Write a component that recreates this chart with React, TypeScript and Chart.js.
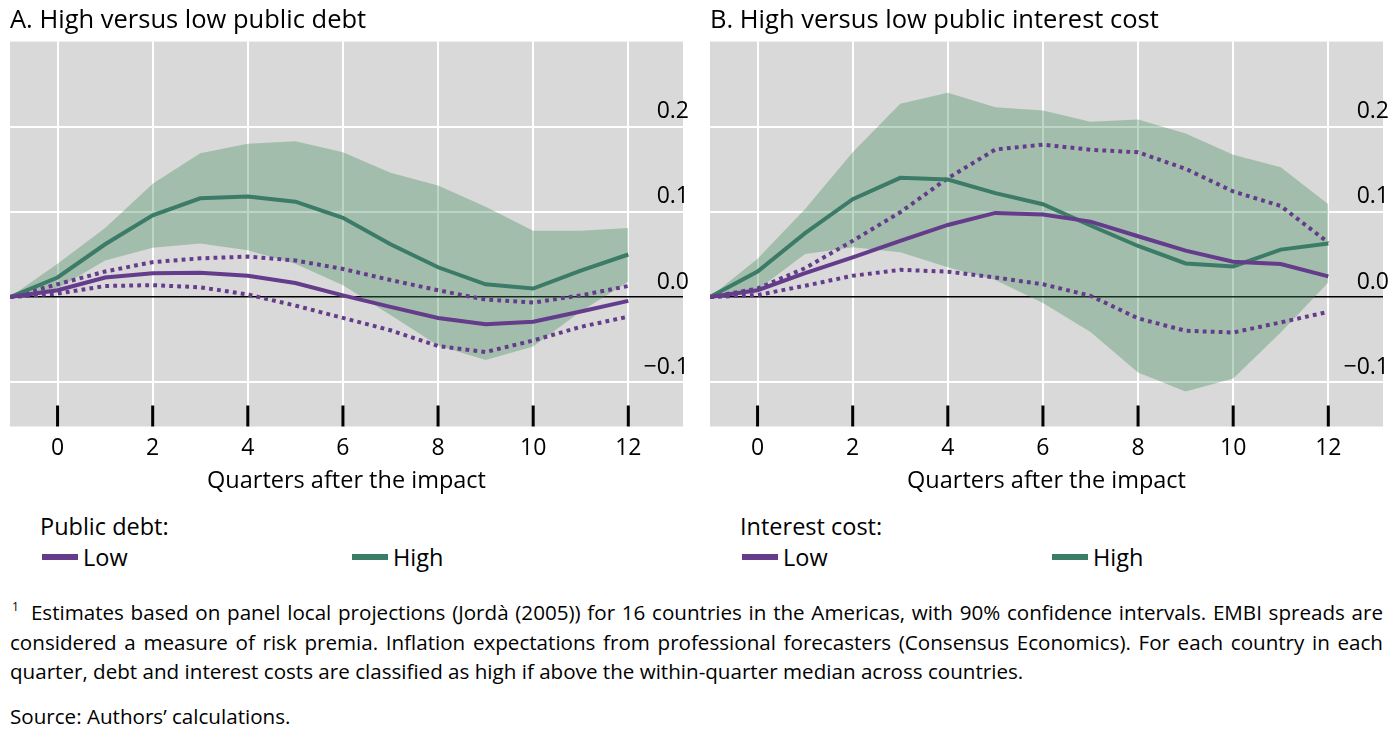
import { useEffect, useRef } from "react";
import { Chart, registerables } from "chart.js";

Chart.register(...registerables);

// quarters after the impact (the lines start one quarter before 0)
const quarters = [-1, 0, 1, 2, 3, 4, 5, 6, 7, 8, 9, 10, 11, 12];
const xTicks = [0, 2, 4, 6, 8, 10, 12];
const yTicks = [-0.1, 0, 0.1, 0.2];

// A. public debt
const debtHigh = [0, 0.023, 0.062, 0.096, 0.116, 0.118, 0.112, 0.093, 0.062, 0.035, 0.015, 0.01, 0.031, 0.05];
const debtHighUpper = [0, 0.039, 0.081, 0.133, 0.169, 0.18, 0.183, 0.17, 0.146, 0.131, 0.106, 0.078, 0.078, 0.081];
const debtHighLower = [0, 0.01, 0.043, 0.058, 0.063, 0.055, 0.039, 0.014, -0.021, -0.057, -0.074, -0.058, -0.017, 0.018];
const debtLow = [0, 0.008, 0.023, 0.028, 0.0285, 0.025, 0.0165, 0.002, -0.0115, -0.0245, -0.032, -0.029, -0.017, -0.0045];
const debtLowUpper = [0, 0.015, 0.03, 0.041, 0.0455, 0.0475, 0.043, 0.033, 0.02, 0.008, -0.003, -0.0065, 0.002, 0.013];
const debtLowLower = [0, 0.004, 0.013, 0.014, 0.0115, 0.003, -0.01, -0.0245, -0.039, -0.0575, -0.0645, -0.051, -0.035, -0.023];

// B. public interest cost
const costHigh = [0, 0.03, 0.075, 0.115, 0.14, 0.138, 0.122, 0.109, 0.084, 0.06, 0.0395, 0.036, 0.0557, 0.063];
const costHighUpper = [0, 0.045, 0.1035, 0.17, 0.227, 0.24, 0.223, 0.219, 0.206, 0.2086, 0.192, 0.167, 0.1525, 0.109];
const costHighLower = [0, 0.009, 0.0506, 0.0584, 0.0525, 0.035, 0.02, -0.007, -0.041, -0.0886, -0.111, -0.0957, -0.0416, 0.017];
const costLow = [0, 0.008, 0.028, 0.0467, 0.066, 0.0847, 0.0988, 0.097, 0.0886, 0.0714, 0.0545, 0.0416, 0.0388, 0.0243];
const costLowUpper = [0, 0.01, 0.034, 0.066, 0.0996, 0.1396, 0.1733, 0.179, 0.173, 0.17, 0.1506, 0.124, 0.107, 0.064];
const costLowLower = [0, 0.0024, 0.0133, 0.025, 0.032, 0.0298, 0.023, 0.015, 0.0015, -0.025, -0.0396, -0.0416, -0.0298, -0.0173];

const seriesNames = ["Low", "High"];

const PURPLE = "#653b8b";
const GREEN = "#3c7b67";
const BAND = "rgba(60,137,86,0.35)";
const FONT = "'Open Sans', sans-serif";

const pts = (arr: number[]) => quarters.map((q, i) => ({ x: q, y: arr[i] }));

const fmtY = (v: number) => {
  if (v < 0) return "\u2212" + Math.abs(v).toFixed(1);
  return v.toFixed(1);
};

// grey panel + black tick marks inside the plot
const panelPlugin = {
  id: "panel",
  beforeDraw(chart: any) {
    const { ctx, chartArea: a } = chart;
    ctx.save();
    ctx.fillStyle = "#d9d9d9";
    ctx.fillRect(a.left, a.top, a.right - a.left, a.bottom - a.top);
    ctx.restore();
  },
  afterDatasetsDraw(chart: any) {
    const { ctx, chartArea: a } = chart;
    const xs = chart.scales.x;
    ctx.save();
    ctx.strokeStyle = "#000";
    ctx.lineWidth = 3;
    xs.ticks.forEach((t: any) => {
      const px = xs.getPixelForValue(t.value);
      ctx.beginPath();
      ctx.moveTo(px, a.bottom - 21);
      ctx.lineTo(px, a.bottom);
      ctx.stroke();
    });
    ctx.restore();
  },
};

type PanelProps = {
  title: string;
  low: number[];
  lowUpper: number[];
  lowLower: number[];
  high: number[];
  highUpper: number[];
  highLower: number[];
};

const Panel = ({ title, low, lowUpper, lowLower, high, highUpper, highLower }: PanelProps) => {
  const chartRef = useRef<HTMLCanvasElement | null>(null);
  const chartInstanceRef = useRef<Chart | null>(null);

  useEffect(() => {
    if (!chartRef.current) return;
    const ctx = chartRef.current.getContext("2d");
    if (!ctx) return;
    if (chartInstanceRef.current) chartInstanceRef.current.destroy();

    const dotted = { borderColor: PURPLE, borderWidth: 4, borderDash: [3.8, 4.2], borderCapStyle: "butt" as const, pointRadius: 0, fill: false };

    chartInstanceRef.current = new Chart(ctx, {
      type: "line",
      data: {
        datasets: [
          { label: seriesNames[0], data: pts(low), borderColor: PURPLE, borderWidth: 4, pointRadius: 0, fill: false },
          { label: seriesNames[1], data: pts(high), borderColor: GREEN, borderWidth: 4, pointRadius: 0, fill: false },
          { label: "Low upper", data: pts(lowUpper), ...dotted },
          { label: "Low lower", data: pts(lowLower), ...dotted },
          { label: "High upper", data: pts(highUpper), borderWidth: 0, pointRadius: 0, backgroundColor: BAND, fill: "+1" },
          { label: "High lower", data: pts(highLower), borderWidth: 0, pointRadius: 0, fill: false },
        ],
      },
      options: {
        animation: false,
        responsive: false,
        layout: { padding: { left: 10, right: 5, top: 0, bottom: 7 } },
        plugins: {
          legend: { display: false },
          tooltip: { enabled: false },
          title: {
            display: true,
            text: title,
            align: "start",
            color: "#000",
            font: { family: FONT, size: 25.5, weight: "normal", lineHeight: 1.2 },
            padding: { top: 5, bottom: 6 },
          },
        },
        scales: {
          x: {
            type: "linear",
            min: -1,
            max: 13.15,
            afterBuildTicks: (axis: any) => {
              axis.ticks = xTicks.map((v) => ({ value: v }));
            },
            grid: { color: "#fff", lineWidth: 2, drawTicks: false },
            border: { display: false },
            ticks: {
              color: "#000",
              padding: 10,
              font: { family: FONT, size: 23, lineHeight: 1 },
              callback: (v: any) => String(v),
            },
            title: {
              display: true,
              text: "Quarters after the impact",
              color: "#000",
              font: { family: FONT, size: 23.5, lineHeight: 1 },
              padding: { top: 0, bottom: 0 },
            },
          },
          y: {
            position: "right",
            min: -0.152,
            max: 0.3,
            afterBuildTicks: (axis: any) => {
              axis.ticks = yTicks.map((v) => ({ value: v }));
            },
            grid: {
              drawTicks: false,
              color: (c: any) => (c.tick && c.tick.value === 0 ? "#000" : "#fff"),
              lineWidth: (c: any) => (c.tick && c.tick.value === 0 ? 1.5 : 2),
            },
            border: { display: false },
            ticks: {
              mirror: true,
              padding: 6,
              labelOffset: -15,
              color: "#000",
              font: { family: FONT, size: 23 },
              callback: (v: any) => fmtY(Number(v)),
            },
          },
        },
      },
      plugins: [panelPlugin],
    });

    return () => {
      if (chartInstanceRef.current) {
        chartInstanceRef.current.destroy();
        chartInstanceRef.current = null;
      }
    };
  }, [title, low, lowUpper, lowLower, high, highUpper, highLower]);

  return <canvas ref={chartRef} width={700} height={500} />;
};

const Legend = ({ heading, left }: { heading: string; left: number }) => (
  <>
    <div style={{ position: "absolute", left: left + 40, top: 511, fontSize: 23.5, lineHeight: "30px" }}>{heading}</div>
    {seriesNames.map((name, i) => (
      <div
        key={name}
        style={{
          position: "absolute",
          left: left + 42 + i * 310,
          top: 542,
          height: 30,
          display: "flex",
          alignItems: "center",
          fontSize: 23.5,
        }}
      >
        <span style={{ display: "inline-block", width: 36, height: 6, background: i === 0 ? PURPLE : GREEN, marginRight: 5 }} />
        <span>{name}</span>
      </div>
    ))}
  </>
);

export default function App() {
  useEffect(() => {
    document.body.style.margin = "0";
  }, []);

  return (
    <div style={{ position: "relative", width: 1400, height: 738, fontFamily: FONT, color: "#000", background: "#fff" }}>
      <div style={{ position: "absolute", left: 0, top: 0 }}>
        <Panel
          title="A. High versus low public debt"
          low={debtLow}
          lowUpper={debtLowUpper}
          lowLower={debtLowLower}
          high={debtHigh}
          highUpper={debtHighUpper}
          highLower={debtHighLower}
        />
      </div>
      <div style={{ position: "absolute", left: 700, top: 0 }}>
        <Panel
          title="B. High versus low public interest cost"
          low={costLow}
          lowUpper={costLowUpper}
          lowLower={costLowLower}
          high={costHigh}
          highUpper={costHighUpper}
          highLower={costHighLower}
        />
      </div>
      <Legend heading="Public debt:" left={0} />
      <Legend heading="Interest cost:" left={700} />
      <div
        style={{
          position: "absolute",
          left: 10,
          top: 598,
          width: 1373,
          fontSize: 20.6,
          lineHeight: "29.5px",
          textAlign: "justify",
        }}
      >
        <span style={{ fontSize: 12, lineHeight: 0, position: "relative", top: -9, marginLeft: 2, marginRight: 12 }}>1</span>
        Estimates based on panel local projections (Jordà (2005)) for 16 countries in the Americas, with 90% confidence intervals. EMBI spreads are considered a measure of risk premia. Inflation expectations from professional forecasters (Consensus Economics). For each country in each quarter, debt and interest costs are classified as high if above the within-quarter median across countries.
      </div>
      <div style={{ position: "absolute", left: 10, top: 702, fontSize: 20.6, lineHeight: "29.5px" }}>
        Source: Authors’ calculations.
      </div>
    </div>
  );
}
